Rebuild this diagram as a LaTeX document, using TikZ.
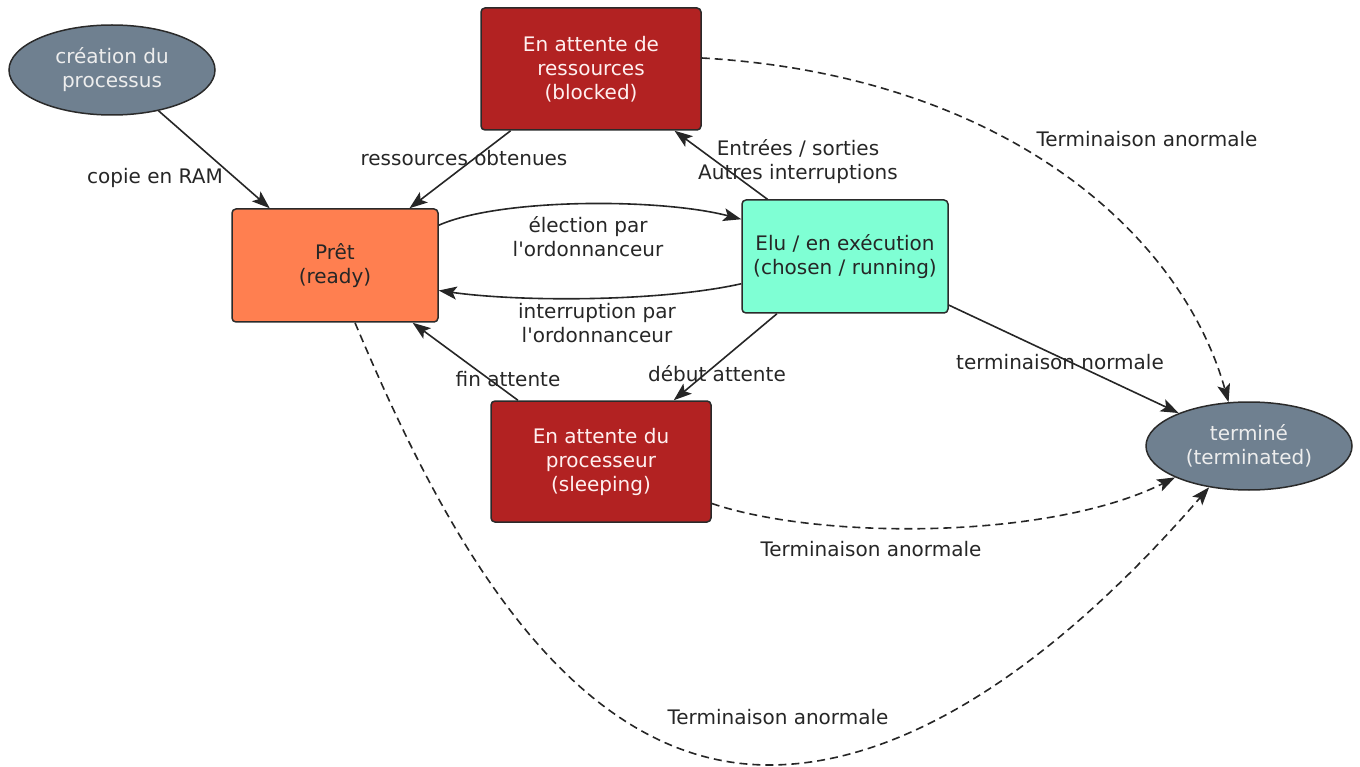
\documentclass[tikz,border=0pt]{standalone}
\usepackage{fontspec}
\setmainfont{DejaVu Sans}
\usepackage{tikz}
\usepackage{xcolor}
\usetikzlibrary{arrows.meta,shapes}
\definecolor{ardoise}{HTML}{6F8090}
\definecolor{corail}{HTML}{FF7F50}
\definecolor{brique}{HTML}{B22222}
\definecolor{aigue}{HTML}{7FFFD4}
\definecolor{bord}{HTML}{2A2A2A}

\begin{document}
\begin{tikzpicture}[x=1pt,y=1pt,
font=\fontsize{20}{24}\selectfont,
etat/.style={draw=bord,line width=1.5pt,rounded corners=4pt,inner sep=0pt,align=center},
bulle/.style={ellipse,draw=bord,line width=1.5pt,fill=ardoise,text=black!7,inner sep=0pt,align=center,minimum width=206pt,minimum height=90pt},
fleche/.style={-{Stealth[length=18pt,width=13pt,inset=4pt]},line width=1.6pt,black!85},
pointille/.style={fleche,dash pattern=on 8pt off 5pt},
lbl/.style={text=black!85,align=center}]
\useasboundingbox (0,0) rectangle (1360,-767);
\node[bulle](creation) at (112,-70){création du\\processus};
\node[bulle,minimum height=88pt](termine) at (1249,-446){terminé\\(terminated)};
\node[etat,fill=corail,text=black!85,minimum width=206pt,minimum height=113pt](pret) at (335,-265.5){Prêt\\(ready)};
\node[etat,fill=brique,text=red!6,minimum width=220pt,minimum height=122pt](bloque) at (591,-69){En attente de\\ressources\\(blocked)};
\node[etat,fill=aigue,text=black!85,minimum width=206pt,minimum height=113pt](elu) at (845,-256.5){Elu / en exécution\\(chosen / running)};
\node[etat,fill=brique,text=red!6,minimum width=220pt,minimum height=121pt](attente) at (601,-461.5){En attente du\\processeur\\(sleeping)};
\coordinate (bas) at (769,-765);

\draw[fleche](creation)--(pret);
\draw[fleche](bloque)--(pret);
\draw[fleche](elu)--(bloque);
\draw[fleche](elu)--(attente);
\draw[fleche](attente)--(pret);
\draw[fleche](elu)--(termine);
\draw[fleche]([yshift=-17pt]pret.north east) .. controls (500,-198) and (660,-198) .. ([yshift=-20pt]elu.north west);
\draw[fleche]([yshift=30pt]elu.south west) .. controls (660,-302) and (520,-302) .. ([yshift=-25pt]pret.east);
\draw[pointille]([yshift=11pt]bloque.east) .. controls (1000,-75) and (1180,-230) .. (termine.115);
\draw[pointille]([yshift=-42pt]attente.east) .. controls (820,-540) and (1050,-540) .. (termine.203);
\draw[pointille]([xshift=20pt]pret.south) .. controls (435,-512) and (560,-765) .. (bas)
 .. controls (950,-765) and (1120,-590) .. (termine.226);

\node[lbl](copie) at (155,-178){copie en RAM};
\node[lbl](obtenues) at (464,-158){ressources obtenues};
\node[lbl](entrees) at (798,-162){Entrées / sorties\\Autres interruptions};
\node[lbl](election) at (588,-237){élection par\\l\textquotesingle ordonnanceur};
\node[lbl](interruption) at (597,-323){interruption par\\l\textquotesingle ordonnanceur};
\node[lbl](fin) at (508,-379){fin attente};
\node[lbl](debut) at (717,-374){début attente};
\node[lbl](normale) at (1060,-362){terminaison normale};
\node[lbl](anormaleA) at (1147,-139){Terminaison anormale};
\node[lbl](anormaleB) at (871,-549){Terminaison anormale};
\node[lbl](anormaleC) at (778,-717){Terminaison anormale};
\end{tikzpicture}
\end{document}
